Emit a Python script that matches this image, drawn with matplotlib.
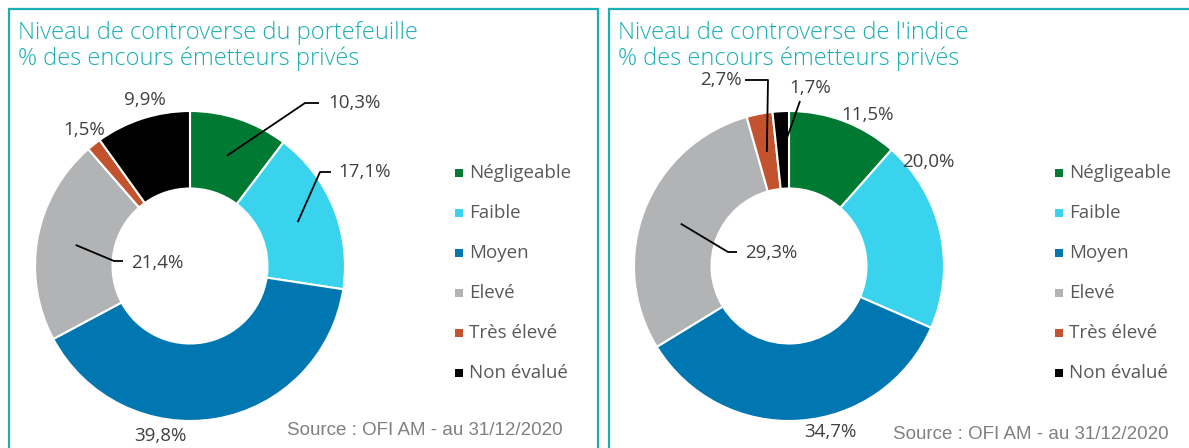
import matplotlib.pyplot as plt
from matplotlib.patches import Rectangle
import numpy as np

categories = ['Négligeable', 'Faible', 'Moyen', 'Elevé', 'Très élevé', 'Non évalué']
colors = ['#007a33', '#3ad3ee', '#0077b0', '#b2b3b5', '#c3532f', '#000000']

portfolio_values = [10.3, 17.1, 39.8, 21.4, 1.5, 9.9]
index_values = [11.5, 20.0, 34.7, 29.3, 2.7, 1.7]

titles = ['Niveau de controverse du portefeuille\n% des encours émetteurs privés',
          "Niveau de controverse de l'indice\n% des encours émetteurs privés"]
source = 'Source : OFI AM - au 31/12/2020'

W, H = 1189, 448
TEAL = '#1aafb4'
plt.rcParams['font.family'] = ['Open Sans', 'DejaVu Sans']

fig = plt.figure(figsize=(W / 100, H / 100), dpi=100)


def fx(x):
    return x / W


def fy(y):
    return 1 - y / H


# panel setup: border px, donut centre, label positions (px), leader bends (px)
panels = [
    dict(values=portfolio_values, box=(9, 598), c=(190, 266),
         labels=[(354, 103), (365, 172), (160, 436), (157, 263), (84, 130), (145, 100)],
         leaders={0: [(305, 103), (319, 103)], 1: [(320, 172), (331, 172)],
                  3: [(114, 261), (123, 261)]},
         legend_x=455, source_xy=(287, 430)),
    dict(values=index_values, box=(609, 1195), c=(789, 266),
         labels=[(868, 115), (928, 162), (830, 432), (771, 253), (721, 80), (810, 88)],
         leaders={3: [(728, 252), (737, 252)], 4: [(768, 80), (745, 80)],
                  5: [(800, 101)]},
         legend_x=1055, source_xy=(893, 434)),
]

R = 155.0
for i, p in enumerate(panels):
    x0, x1 = p['box']
    cx, cy = p['c']
    ax = fig.add_axes([fx(x0), 0, (x1 - x0) / W, 1])
    vals = p['values']
    ax.pie(vals, colors=colors, startangle=90, counterclock=False, radius=1,
           wedgeprops=dict(width=0.5, edgecolor='white', linewidth=1.5))
    ax.set_aspect('auto')
    ax.set_xlim((x0 - cx) / R, (x1 - cx) / R)
    ax.set_ylim((cy - H) / R, cy / R)
    ax.axis('off')

    def d(pt):
        return ((pt[0] - cx) / R, (cy - pt[1]) / R)

    cum = np.cumsum([0] + list(vals))
    total = sum(vals)
    for k, v in enumerate(vals):
        mid = 90 - (cum[k] + v / 2) / total * 360
        ang = np.deg2rad(mid)
        anchor = (0.75 * np.cos(ang), 0.75 * np.sin(ang))
        lx, ly = d(p['labels'][k])
        ax.text(lx, ly, f'{v:.1f}%'.replace('.', ','), ha='center', va='center',
                fontsize=13.5, color='#404040')
        pts = p['leaders'].get(k)
        if pts:
            xs = [anchor[0]] + [d(q)[0] for q in pts]
            ys = [anchor[1]] + [d(q)[1] for q in pts]
            ax.plot(xs, ys, color='black', lw=1.3, solid_capstyle='butt')

    # border
    fig.add_artist(Rectangle((fx(x0), fy(H + 20)), (x1 - x0) / W, (H + 20 - 9) / H,
                             transform=fig.transFigure, fill=False,
                             edgecolor=TEAL, lw=1.6))
    fig.text(fx(x0 + 9), fy(21), titles[i], ha='left', va='top', fontsize=17,
             color=TEAL, fontweight='light', linespacing=1.1)

    # legend
    for k, name in enumerate(categories):
        yy = 173 + 40 * k
        fig.add_artist(Rectangle((fx(p['legend_x']), fy(yy + 4)), 8 / W, 8 / H,
                                 transform=fig.transFigure, color=colors[k], lw=0))
        fig.text(fx(p['legend_x'] + 14), fy(yy), name, ha='left', va='center',
                 fontsize=13.5, color='#595959')

    sx, sy = p['source_xy']
    fig.text(fx(sx), fy(sy), source, ha='left', va='center', fontsize=13.5,
             color='#808080', family=['Liberation Sans', 'DejaVu Sans'])

fig.savefig('out.png', dpi=100)
